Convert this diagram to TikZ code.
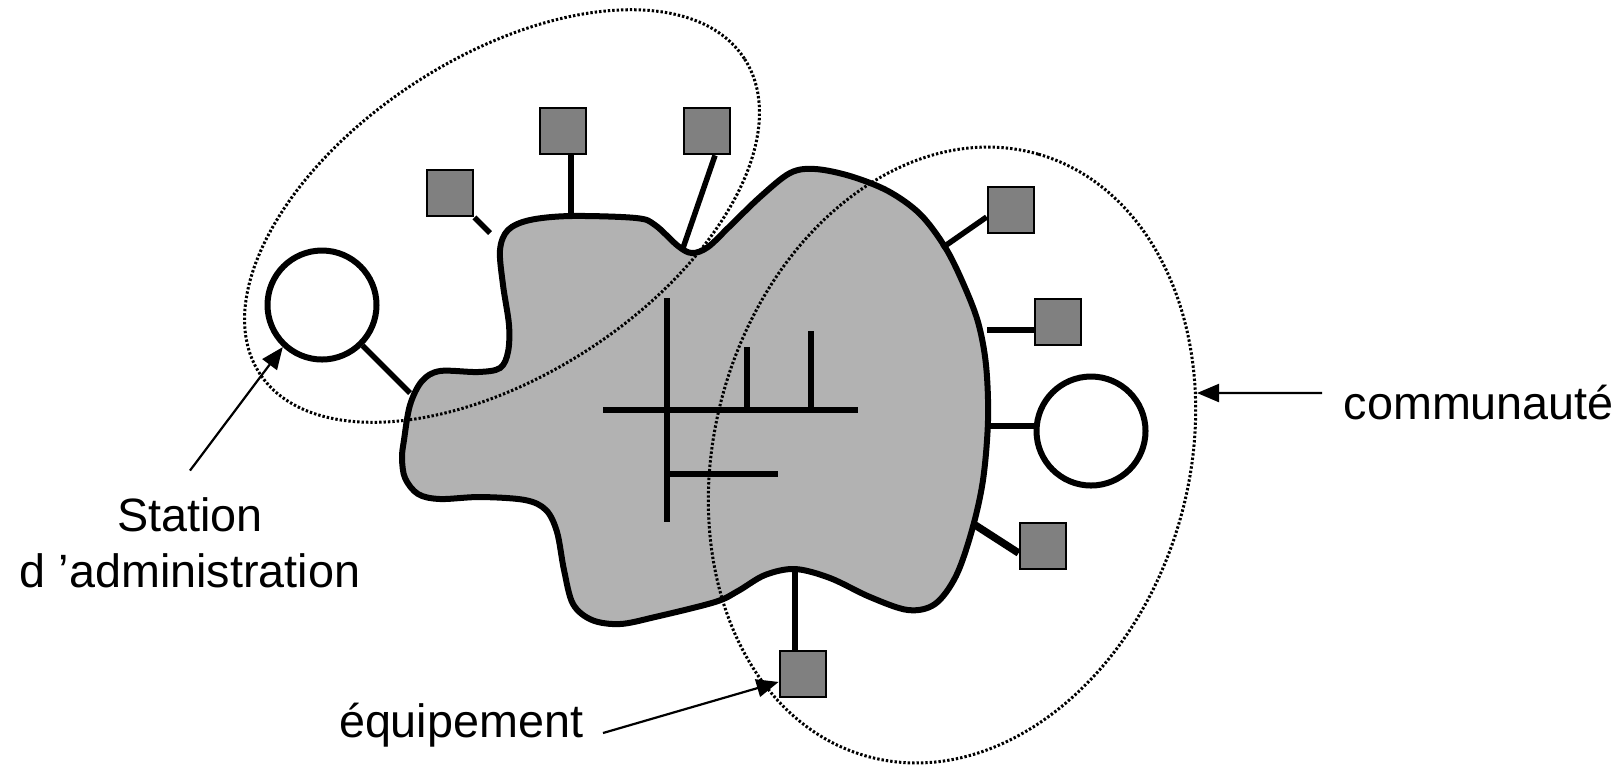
\documentclass[tikz,border=0pt]{standalone}
\usepackage{fontspec}
\setmainfont{Liberation Sans}
\usepackage{tikz}
\usetikzlibrary{arrows.meta}
\definecolor{cloud}{RGB}{178,178,178}
\definecolor{boxgray}{RGB}{128,128,128}
\tikzset{
  net/.style={draw=black,line width=0.6mm,fill=cloud},
  bus/.style={line width=0.6mm},
  link/.style={line width=0.55mm},
  equip/.style={draw=black,line width=0.28mm,fill=boxgray,minimum size=4.6mm,inner sep=0pt},
  station/.style={circle,draw=black,line width=0.6mm,fill=white,minimum size=10.9mm,inner sep=0pt},
  zone/.style={line width=0.3mm,dash pattern=on 0.24mm off 0.2mm},
  callout/.style={line width=0.22mm,-{Triangle[length=2.2mm,width=1.8mm]}},
  note/.style={font=\fontsize{13.3}{15.9}\selectfont,inner sep=0pt,align=center}
}

\begin{document}
\begin{tikzpicture}[x=0.1mm,y=-0.1mm]
  \useasboundingbox (0,0) rectangle (1622,766);
  \draw[net] plot[smooth cycle,tension=0.55] coordinates {
    (404,440) (410,405) (422,381) (440,371) (478,372) (500,368) (508,352)
    (509,325) (503,285) (500,250) (508,230) (530,220) (571,216) (636,218)
    (655,225) (678,246) (692,253) (708,247) (730,226) (760,197) (790,173)
    (815,169) (850,176) (888,191) (920,214) (945,247) (963,283) (978,322)
    (986,365) (988,420) (983,480) (972,530) (956,576) (935,604) (908,610)
    (870,597) (830,578) (795,569) (765,575) (738,591) (715,602) (655,617)
    (620,624) (592,620) (573,604) (564,570) (557,532) (546,510) (525,500)
    (480,497) (440,499) (418,494) (405,478) (402,458)};
  \draw[bus] (667,298) -- (667,522);
  \draw[bus] (603,410) -- (858,410);
  \draw[bus] (747,347) -- (747,410);
  \draw[bus] (811,331) -- (811,410);
  \draw[bus] (667,474) -- (778,474);

  \coordinate (adminzone) at (502,216);
  \coordinate (commzone) at (952,455);
  \draw[zone,rotate around={33:(adminzone)}] (adminzone) ellipse [x radius=28.9mm,y radius=15.9mm];
  \draw[zone,rotate around={74:(commzone)}] (commzone) ellipse [x radius=31.3mm,y radius=23.7mm];

  \node[station] (admin) at (322,305) {};
  \node[station] (server) at (1091,431) {};
  \node[equip] (eqA) at (450,193) {};
  \node[equip] (eqB) at (563,131) {};
  \node[equip] (eqC) at (707,131) {};
  \node[equip] (eqD) at (1011,210) {};
  \node[equip] (eqE) at (1058,322) {};
  \node[equip] (eqF) at (1043,546) {};
  \node[equip] (eqG) at (803,674) {};

  \coordinate (pAdmin) at (410,393);
  \coordinate (pA) at (490,233);
  \coordinate (pB) at (571,216);
  \coordinate (pC) at (683,248);
  \coordinate (pD) at (942,248);
  \coordinate (pE) at (987,330);
  \coordinate (pServer) at (988,426);
  \coordinate (pF) at (972,523);
  \coordinate (pG) at (795,569);
  \draw[link] (admin.-45) -- (pAdmin);
  \draw[link] (eqA.south east) -- (pA);
  \draw[link] (pB |- eqB.south) -- (pB);
  \draw[link] ([xshift=0.8mm]eqC.south) -- (pC);
  \draw[link] (pD) -- ([yshift=-0.7mm]eqD.west);
  \draw[link] (pE) -- (pE -| eqE.west);
  \draw[link] (pServer) -- (pServer -| server.west);
  \draw[link,line width=0.75mm] (pF) -- ([yshift=-0.7mm]eqF.west);
  \draw[link] (pG) -- (pG |- eqG.north);

  \node[note,anchor=base] (lblStation) at (190,587) {Station\\d 'administration};
  \node[note,anchor=base east] (lblEquip) at (584,737) {équipement};
  \node[note,anchor=base west] (lblComm) at (1343,419) {communauté};
  \coordinate (commEdge) at (1197,393);
  \draw[callout] ([yshift=2.6mm]lblStation.north) -- (admin.227);
  \draw[callout] ([shift={(1.9mm,0.4mm)}]lblEquip.base east) -- (eqG.198);
  \draw[callout] ([shift={(-2.1mm,2.6mm)}]lblComm.base west) -- (commEdge);
\end{tikzpicture}
\end{document}
